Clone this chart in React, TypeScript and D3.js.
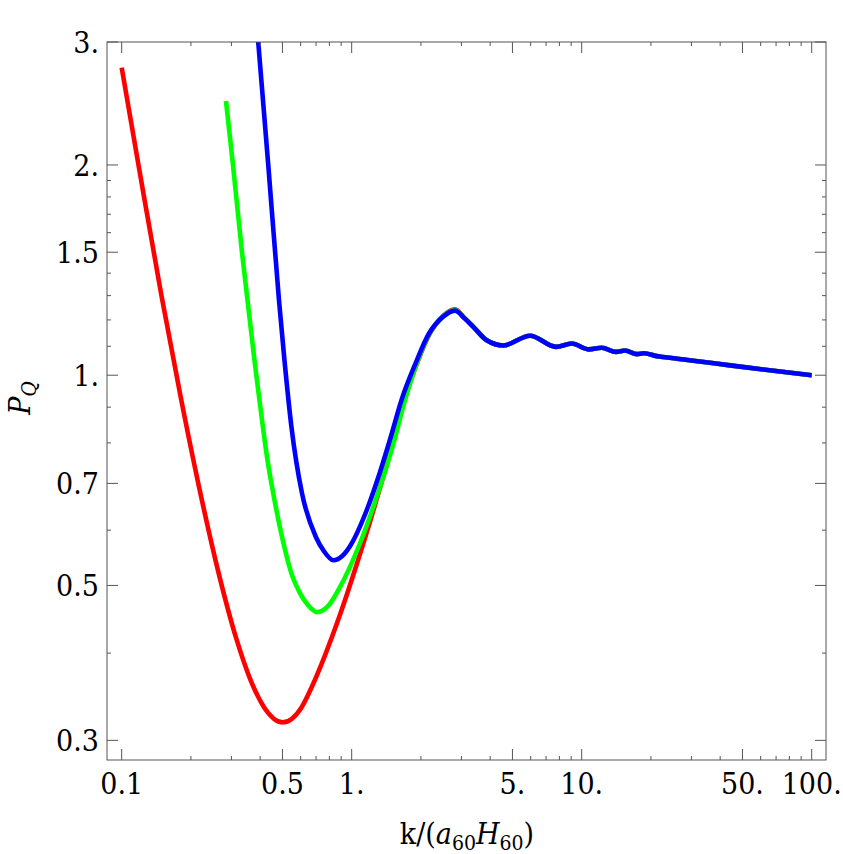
import * as d3 from "d3";

// values (k in units of a60 H60, P_Q)
const redK = [0.1, 0.1183, 0.1489, 0.1811, 0.2168, 0.2649, 0.3141, 0.3649, 0.4157, 0.5012, 0.606, 0.672, 0.7655, 0.8894, 1.0336, 1.2012, 1.3955, 1.5737, 1.7223, 1.922, 2.19, 2.502, 2.812];
const redP = [2.757, 2.001, 1.2997, 0.9255, 0.6925, 0.5182, 0.4209, 0.3648, 0.3347, 0.3184, 0.3347, 0.3583, 0.3971, 0.4538, 0.5265, 0.6166, 0.7295, 0.841, 0.9362, 1.0393, 1.1485, 1.2166, 1.2428];

const greenK = [0.2841, 0.3048, 0.3334, 0.3524, 0.3778, 0.3973, 0.4305, 0.4617, 0.5052, 0.55, 0.5958, 0.6457, 0.7065, 0.7887, 0.8894, 1.0866, 1.327, 1.512, 1.705, 1.917, 2.182, 2.494, 2.812];
const greenP = [2.47, 1.998, 1.5, 1.281, 1.0507, 0.921, 0.7556, 0.6625, 0.5746, 0.5173, 0.4876, 0.4686, 0.4579, 0.467, 0.4972, 0.5746, 0.6912, 0.7942, 0.921, 1.0393, 1.1477, 1.2139, 1.2397];

const blueK = [0.3886, 0.4339, 0.4829, 0.5102, 0.5473, 0.6079, 0.6995, 0.7579, 0.8318, 0.9074, 0.9831, 1.162, 1.327, 1.482, 1.646, 1.894, 2.168, 2.482, 2.812];
const blueP = [3.118, 1.998, 1.281, 1.0507, 0.8425, 0.6778, 0.5861, 0.5597, 0.5434, 0.5506, 0.5691, 0.6407, 0.7263, 0.8178, 0.921, 1.0393, 1.1473, 1.2107, 1.2373];

// common oscillating tail shared by all three curves
const tailK = [3.1, 3.379, 3.864, 4.562, 5.959, 7.731, 9.05, 10.76, 12.22, 14.1, 15.43, 17.4, 18.66, 21.18, 22.63, 26, 30, 44.2, 61.6, 100];
const tailP = [1.206, 1.173, 1.122, 1.103, 1.139, 1.098, 1.11, 1.089, 1.095, 1.08, 1.085, 1.072, 1.075, 1.065, 1.062, 1.056, 1.05, 1.033, 1.019, 1.0];

const xMajor = [0.1, 0.5, 1, 5, 10, 50, 100];
const xMajorLabels = ["0.1", "0.5", "1.", "5.", "10.", "50.", "100."];
const xMinor = [0.2, 0.3, 0.4, 0.6, 0.7, 0.8, 0.9, 2, 3, 4, 6, 7, 8, 9, 20, 30, 40, 60, 70, 80, 90];

const yMajor = [0.3, 0.5, 0.7, 1, 1.5, 2, 3];
const yMajorLabels = ["0.3", "0.5", "0.7", "1.", "1.5", "2.", "3."];
const yMinor = [0.4, 0.6, 0.8, 0.9, 1.1, 1.2, 1.3, 1.4, 1.6, 1.7, 1.8, 1.9];

const W = 843;
const H = 854;
const left = 107, right = 826, top = 42, bottom = 760;
const axisColor = "#555";

export default function App() {
  const x = d3.scaleLog().domain([0.08633, 115.4]).range([left, right]);
  const y = d3.scaleLog().domain([0.2812, 3.0]).range([bottom, top]);

  const line = d3
    .line<[number, number]>()
    .x((d) => x(d[0]))
    .y((d) => y(d[1]))
    .curve(d3.curveMonotoneX);

  const build = (ks: number[], ps: number[]) =>
    ks.map((k, i) => [k, ps[i]] as [number, number]).concat(tailK.map((k, i) => [k, tailP[i]] as [number, number]));

  const series = [
    { pts: build(redK, redP), color: "#ff0000" },
    { pts: build(greenK, greenP), color: "#00ff00" },
    { pts: build(blueK, blueP), color: "#0000ff" },
  ];

  const majorLen = 11;
  const minorLen = 4;

  return (
    <svg width={W} height={H} style={{ position: "absolute", left: 0, top: 0, background: "#fff" }}>
      <defs>
        <clipPath id="plotClip">
          <rect x={left} y={top} width={right - left} height={bottom - top} />
        </clipPath>
      </defs>

      {/* curves */}
      <g clipPath="url(#plotClip)">
        {series.map((s, i) => (
          <path key={i} d={line(s.pts) || ""} fill="none" stroke={s.color} strokeWidth={4.6} strokeLinejoin="round" />
        ))}
      </g>

      {/* frame */}
      <rect x={left} y={top} width={right - left} height={bottom - top} fill="none" stroke={axisColor} strokeWidth={1} />

      {/* ticks on all four sides */}
      <g stroke={axisColor} strokeWidth={1}>
        {xMajor.map((v) => (
          <g key={"xM" + v}>
            <line x1={x(v)} x2={x(v)} y1={bottom} y2={bottom - majorLen} />
            <line x1={x(v)} x2={x(v)} y1={top} y2={top + majorLen} />
          </g>
        ))}
        {xMinor.map((v) => (
          <g key={"xm" + v}>
            <line x1={x(v)} x2={x(v)} y1={bottom} y2={bottom - minorLen} />
            <line x1={x(v)} x2={x(v)} y1={top} y2={top + minorLen} />
          </g>
        ))}
        {yMajor.map((v) => (
          <g key={"yM" + v}>
            <line x1={left} x2={left + majorLen} y1={y(v)} y2={y(v)} />
            <line x1={right} x2={right - majorLen} y1={y(v)} y2={y(v)} />
          </g>
        ))}
        {yMinor.map((v) => (
          <g key={"ym" + v}>
            <line x1={left} x2={left + minorLen} y1={y(v)} y2={y(v)} />
            <line x1={right} x2={right - minorLen} y1={y(v)} y2={y(v)} />
          </g>
        ))}
      </g>

      {/* tick labels */}
      <g fontFamily="DejaVu Serif Condensed" fontSize={30} fill="#000">
        {xMajor.map((v, i) => (
          <text key={"xl" + v} x={x(v)} y={794} textAnchor="middle">
            {xMajorLabels[i]}
          </text>
        ))}
      </g>
      <g fontFamily="DejaVu Serif" fontStretch="condensed" style={{ fontStretch: "condensed" }} fontSize={30} fill="#000">
        {yMajor.map((v, i) => (
          <text key={"yl" + v} x={99} y={y(v) + 11} textAnchor="end">
            {yMajorLabels[i]}
          </text>
        ))}
      </g>

      {/* axis labels */}
      <text x={467} y={844} textAnchor="middle" fontFamily="DejaVu Serif Condensed" fontSize={30}>
        k/(
        <tspan fontStyle="italic">a</tspan>
        <tspan fontSize={21} dy={6}>60</tspan>
        <tspan fontStyle="italic" dy={-6}>H</tspan>
        <tspan fontSize={21} dy={6}>60</tspan>
        <tspan dy={-6}>)</tspan>
      </text>
      <text transform={`translate(30, 398) rotate(-90)`} textAnchor="middle" fontFamily="DejaVu Serif" style={{ fontStretch: "condensed" }} fontSize={30}>
        <tspan fontStyle="italic">P</tspan>
        <tspan fontStyle="italic" fontSize={21} dy={6}>Q</tspan>
      </text>
    </svg>
  );
}
